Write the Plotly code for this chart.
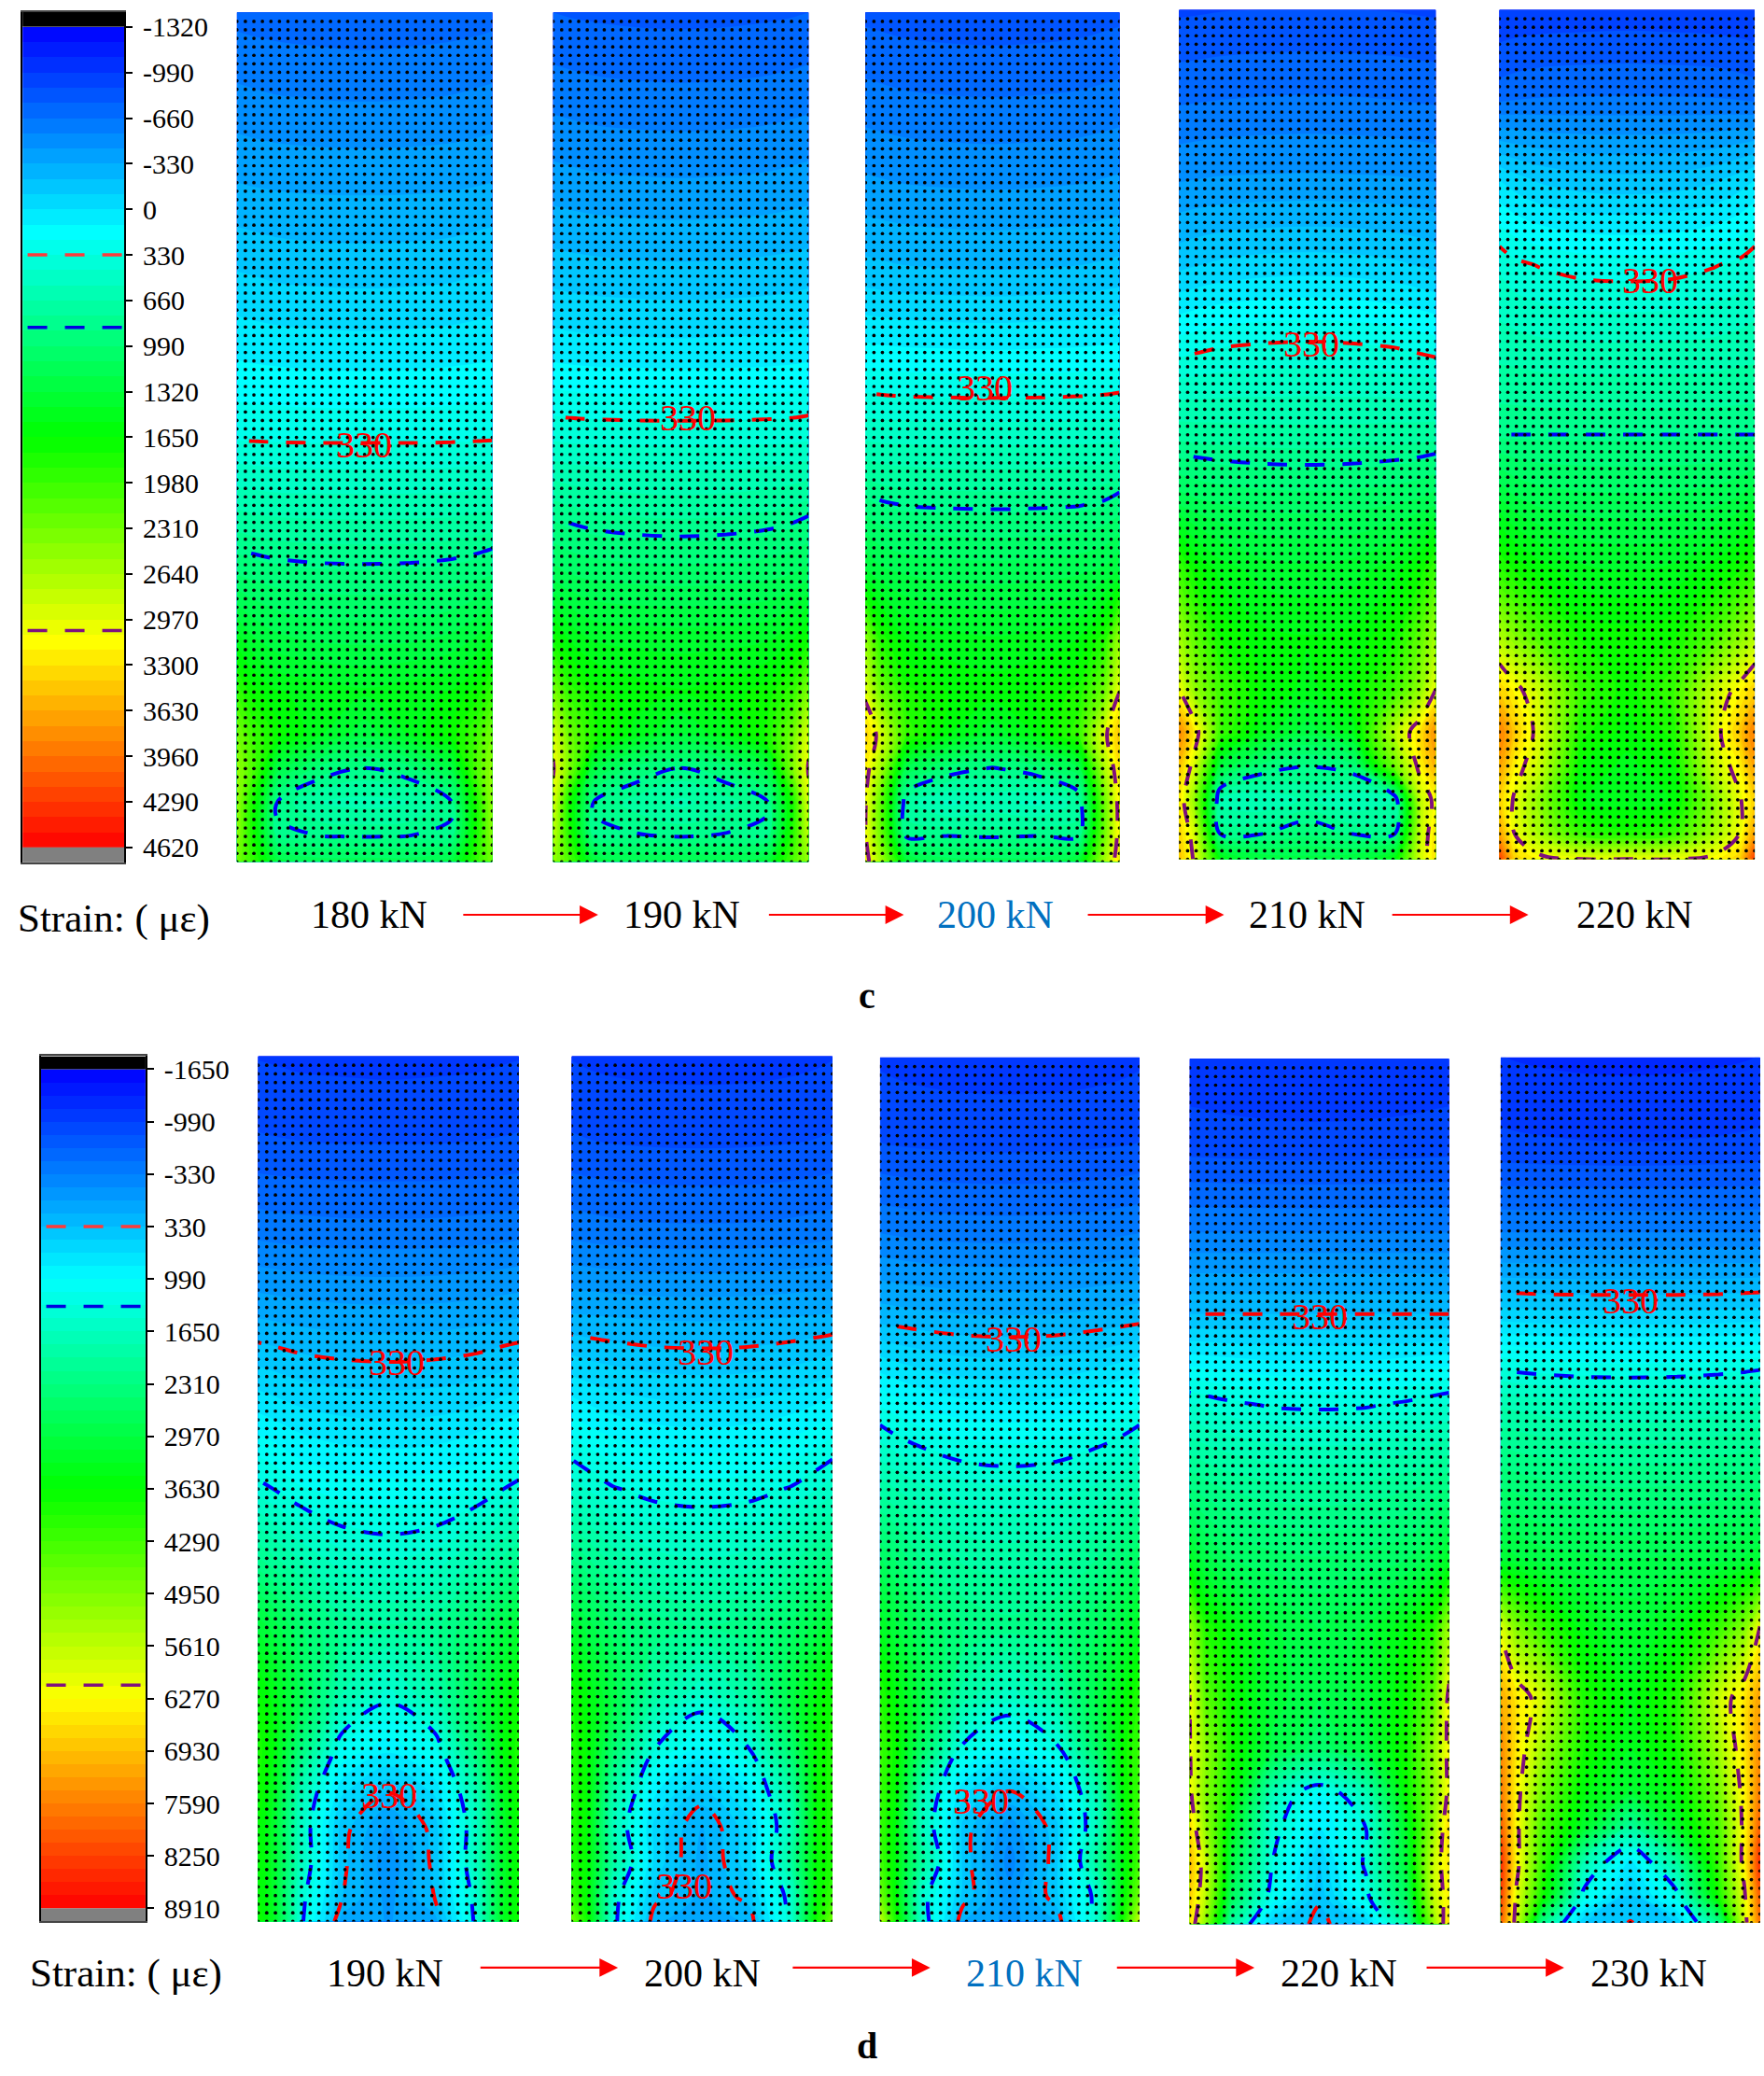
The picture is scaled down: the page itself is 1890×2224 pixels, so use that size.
import numpy as np
import plotly.graph_objects as go

W, H = 1890, 2224
S = W / 1333  # the boxes below were measured on the 1333 px wide view

# Contour bar ticks
ticks_c = [-1320, -990, -660, -330, 0, 330, 660, 990, 1320, 1650, 1980, 2310, 2640, 2970, 3300, 3630, 3960, 4290, 4620]
ticks_d = [-1650, -990, -330, 330, 990, 1650, 2310, 2970, 3630, 4290, 4950, 5610, 6270, 6930, 7590, 8250, 8910]

# Contour levels drawn as dashed lines: red, blue, purple
levels_c = [330, 855, 3050]
levels_d = [330, 1334, 6100]

loads_c = ['180 kN', '190 kN', '200 kN', '210 kN', '220 kN']
loads_d = ['190 kN', '200 kN', '210 kN', '220 kN', '230 kN']

# Gauge positions across the width and down the height of a specimen
gauge_x = [0, .06, .16, .32, .5, .68, .84, .94, 1]
gauge_y = [0, .1, .2, .3, .4, .5, .58, .66, .74, .8, .85, .89, .93, .97, 1]

# Strain (rows follow gauge_y, columns follow gauge_x)
c_180 = [
    [-700, -710, -720, -730, -740, -730, -720, -710, -700],
    [-520, -530, -545, -555, -560, -555, -545, -530, -520],
    [-330, -340, -350, -358, -360, -358, -350, -340, -330],
    [-120, -130, -150, -160, -165, -160, -150, -130, -120],
    [90, 80, 70, 60, 55, 60, 70, 80, 90],
    [315, 312, 308, 305, 305, 305, 308, 312, 315],
    [640, 620, 605, 600, 598, 600, 605, 620, 640],
    [975, 950, 920, 900, 895, 900, 920, 950, 975],
    [1500, 1350, 1250, 1200, 1190, 1200, 1250, 1350, 1500],
    [1950, 1700, 1550, 1500, 1450, 1500, 1550, 1700, 1950],
    [2350, 2000, 1700, 1450, 1250, 1450, 1700, 2000, 2350],
    [2500, 2100, 1250, 950, 850, 950, 1250, 2100, 2500],
    [2500, 1800, 840, 660, 620, 660, 840, 1800, 2500],
    [2450, 1800, 870, 860, 850, 860, 870, 1800, 2450],
    [2300, 1950, 1300, 1150, 1150, 1150, 1300, 1950, 2300],
]
c_190 = [
    [-770, -780, -790, -800, -805, -800, -790, -780, -770],
    [-590, -600, -615, -625, -630, -625, -615, -600, -590],
    [-390, -400, -415, -425, -430, -425, -415, -400, -390],
    [-170, -180, -190, -200, -205, -200, -190, -180, -170],
    [70, 60, 50, 45, 40, 45, 50, 60, 70],
    [420, 410, 405, 400, 400, 400, 405, 410, 420],
    [800, 770, 740, 715, 705, 715, 740, 770, 800],
    [1150, 1100, 1060, 1040, 1030, 1040, 1060, 1100, 1150],
    [1750, 1550, 1430, 1400, 1390, 1400, 1430, 1550, 1750],
    [2400, 1950, 1700, 1600, 1550, 1600, 1700, 1950, 2400],
    [2950, 2300, 1800, 1500, 1300, 1500, 1800, 2300, 2950],
    [3080, 2400, 1250, 950, 850, 950, 1250, 2400, 3080],
    [2950, 1800, 840, 730, 630, 730, 840, 1800, 2950],
    [2750, 1900, 880, 870, 850, 870, 880, 1900, 2750],
    [2500, 2100, 1350, 1200, 1200, 1200, 1350, 2100, 2500],
]
c_200 = [
    [-800, -810, -825, -835, -840, -835, -825, -810, -800],
    [-620, -630, -645, -655, -660, -655, -645, -630, -620],
    [-420, -430, -445, -455, -460, -455, -445, -430, -420],
    [-190, -200, -215, -225, -230, -225, -215, -200, -190],
    [150, 140, 130, 125, 120, 125, 130, 140, 150],
    [530, 520, 515, 510, 510, 510, 515, 520, 530],
    [930, 880, 850, 840, 835, 840, 850, 880, 930],
    [1350, 1250, 1200, 1170, 1160, 1170, 1200, 1250, 1350],
    [2500, 1850, 1550, 1480, 1450, 1480, 1550, 1850, 2600],
    [2950, 2300, 1800, 1650, 1600, 1650, 1800, 2300, 3050],
    [3400, 2900, 1950, 1550, 1350, 1550, 1950, 2950, 3500],
    [3200, 2600, 1200, 950, 840, 950, 1200, 2650, 3300],
    [3080, 2200, 700, 520, 580, 520, 700, 2250, 3200],
    [3080, 2300, 840, 860, 845, 860, 840, 2300, 3200],
    [3200, 2600, 1400, 1150, 1150, 1150, 1400, 2600, 3300],
]
c_210 = [
    [-900, -895, -885, -880, -875, -880, -885, -895, -900],
    [-690, -685, -675, -665, -660, -665, -675, -685, -690],
    [-450, -440, -430, -425, -420, -425, -430, -440, -450],
    [-143, -120, -90, -65, -57, -65, -90, -120, -143],
    [290, 310, 340, 360, 370, 360, 340, 310, 290],
    [728, 720, 712, 702, 698, 702, 712, 720, 728],
    [1180, 1130, 1090, 1060, 1050, 1060, 1090, 1130, 1180],
    [2000, 1700, 1500, 1380, 1350, 1380, 1500, 1700, 2000],
    [2600, 2200, 1750, 1580, 1550, 1580, 1750, 2200, 2600],
    [3050, 2500, 2000, 1650, 1500, 1650, 2000, 2500, 3050],
    [3850, 3250, 2000, 1500, 1250, 1500, 2700, 3300, 3800],
    [3500, 2900, 1300, 950, 860, 950, 2300, 3180, 3600],
    [3300, 2500, 620, 560, 680, 560, 650, 2800, 3150],
    [3400, 2900, 850, 850, 960, 850, 850, 2800, 3300],
    [3500, 3000, 1600, 1300, 1250, 1300, 1600, 2900, 3300],
]
c_220 = [
    [-980, -970, -960, -955, -950, -955, -960, -970, -980],
    [-720, -700, -680, -670, -665, -670, -680, -700, -720],
    [0, -60, -130, -175, -190, -175, -130, -60, 0],
    [420, 360, 320, 280, 270, 280, 320, 360, 420],
    [620, 610, 590, 580, 575, 580, 590, 610, 620],
    [855, 855, 855, 855, 855, 855, 855, 855, 855],
    [1350, 1250, 1180, 1150, 1140, 1150, 1180, 1250, 1350],
    [1900, 1750, 1600, 1460, 1430, 1460, 1600, 1750, 1900],
    [2700, 2450, 2100, 1750, 1700, 1750, 2100, 2450, 2700],
    [3400, 3150, 2800, 1950, 1700, 1950, 2800, 3150, 3400],
    [3900, 3450, 2900, 1800, 1600, 1800, 2900, 3450, 3900],
    [3700, 3200, 2800, 1650, 1500, 1650, 2800, 3200, 3700],
    [3400, 3000, 2450, 1550, 1450, 1550, 2450, 3000, 3400],
    [3700, 3050, 2600, 1950, 1800, 1950, 2600, 3050, 3700],
    [4300, 3400, 3150, 3060, 3060, 3060, 3150, 3400, 4300],
]
d_190 = [
    [-1000, -1010, -1030, -1040, -1050, -1040, -1030, -1010, -1000],
    [-800, -810, -820, -830, -830, -830, -820, -810, -800],
    [-400, -415, -430, -445, -450, -445, -430, -415, -400],
    [145, 130, 100, 75, 65, 75, 100, 130, 145],
    [743, 700, 630, 580, 562, 580, 630, 700, 743],
    [1400, 1330, 1180, 1080, 1050, 1080, 1180, 1330, 1400],
    [2150, 2000, 1800, 1550, 1480, 1550, 1800, 2000, 2150],
    [3100, 2900, 2500, 2100, 2000, 2100, 2500, 2900, 3100],
    [3700, 3400, 2800, 1800, 1400, 1800, 2800, 3400, 3700],
    [3900, 3500, 2400, 1150, 880, 1150, 2400, 3500, 3900],
    [3800, 3300, 1800, 700, 340, 700, 1800, 3300, 3800],
    [3700, 3200, 1650, 430, -30, 430, 1650, 3200, 3700],
    [3700, 3200, 1700, 400, -130, 400, 1700, 3200, 3700],
    [3700, 3250, 1500, 350, -60, 350, 1500, 3250, 3700],
    [3800, 3300, 1450, 100, -10, 100, 1450, 3300, 3800],
]
d_200 = [
    [-1000, -1020, -1040, -1055, -1060, -1055, -1040, -1020, -1000],
    [-800, -815, -830, -845, -850, -845, -830, -815, -800],
    [-400, -420, -445, -465, -470, -465, -445, -420, -400],
    [180, 170, 155, 135, 130, 135, 155, 170, 180],
    [870, 810, 740, 680, 660, 680, 740, 810, 870],
    [1574, 1480, 1350, 1250, 1220, 1250, 1350, 1480, 1574],
    [2300, 2150, 1900, 1700, 1650, 1700, 1900, 2150, 2300],
    [3200, 2900, 2550, 2250, 2150, 2250, 2550, 2900, 3200],
    [3800, 3500, 2900, 1900, 1500, 1900, 2900, 3500, 3800],
    [3900, 3600, 2500, 1334, 950, 1334, 2500, 3600, 3900],
    [3900, 3600, 1900, 850, 450, 850, 1900, 3600, 3900],
    [3900, 3600, 1700, 600, 150, 600, 1700, 3600, 3900],
    [3900, 3600, 1950, 600, 100, 600, 1950, 3600, 3900],
    [4200, 3600, 1500, 420, 120, 420, 1500, 3600, 4200],
    [4800, 3800, 1450, 180, 100, 180, 1450, 3800, 4800],
]
d_210 = [
    [-1020, -1040, -1060, -1075, -1080, -1075, -1060, -1040, -1020],
    [-820, -835, -850, -865, -870, -865, -850, -835, -820],
    [-350, -370, -395, -415, -420, -415, -395, -370, -350],
    [258, 240, 215, 185, 175, 185, 215, 240, 258],
    [1133, 1050, 950, 860, 835, 860, 950, 1050, 1133],
    [1920, 1820, 1700, 1560, 1516, 1560, 1700, 1820, 1920],
    [2650, 2450, 2150, 1950, 1900, 1950, 2150, 2450, 2650],
    [3300, 3000, 2650, 2300, 2200, 2300, 2650, 3000, 3300],
    [4000, 3500, 2900, 1900, 1550, 1900, 2900, 3500, 4000],
    [4200, 3700, 2600, 1250, 950, 1250, 2600, 3700, 4200],
    [4200, 3600, 1800, 700, 320, 700, 1800, 3600, 4200],
    [4200, 3500, 1700, 450, -100, 450, 1700, 3500, 4200],
    [4300, 3500, 2000, 450, -250, 450, 2000, 3500, 4300],
    [4800, 3600, 1500, 450, -100, 450, 1500, 3600, 4800],
    [5700, 3900, 1600, 150, -50, 150, 1600, 3900, 5700],
]
d_220 = [
    [-1100, -1110, -1130, -1145, -1150, -1145, -1130, -1110, -1100],
    [-900, -905, -915, -925, -930, -925, -915, -905, -900],
    [-335, -335, -335, -335, -335, -335, -335, -335, -335],
    [365, 365, 365, 365, 365, 365, 365, 365, 365],
    [1494, 1450, 1380, 1310, 1294, 1310, 1380, 1450, 1494],
    [2350, 2250, 2150, 2070, 2050, 2070, 2150, 2250, 2350],
    [3300, 2900, 2650, 2550, 2500, 2550, 2650, 2900, 3300],
    [5300, 4000, 3500, 3000, 2800, 3000, 3500, 4000, 5400],
    [6150, 4600, 3700, 3050, 2800, 3050, 3700, 4600, 6300],
    [6150, 5100, 3800, 2900, 2500, 2900, 3800, 5100, 6300],
    [6250, 5000, 3700, 1700, 1000, 1700, 3700, 5000, 6300],
    [6700, 5200, 3300, 1450, 800, 1334, 3300, 5200, 6700],
    [7000, 5750, 3000, 1320, 500, 1400, 3100, 5700, 6500],
    [6800, 5600, 2700, 1100, 350, 1200, 2700, 5600, 6400],
    [6600, 5100, 2000, 500, 280, 500, 2000, 5100, 6700],
]
d_230 = [
    [-1150, -1165, -1180, -1195, -1200, -1195, -1180, -1165, -1150],
    [-950, -960, -970, -980, -985, -980, -970, -960, -950],
    [-350, -350, -350, -350, -350, -350, -350, -350, -350],
    [600, 590, 575, 565, 563, 565, 575, 590, 600],
    [1800, 1760, 1720, 1680, 1667, 1680, 1720, 1760, 1800],
    [2500, 2450, 2400, 2350, 2330, 2350, 2400, 2450, 2500],
    [3100, 3000, 2900, 2850, 2800, 2850, 2900, 3000, 3100],
    [6000, 5000, 4200, 3400, 3100, 3400, 4200, 5000, 6200],
    [7200, 6500, 5800, 3900, 3400, 3900, 5700, 6500, 7300],
    [7500, 6500, 5300, 3800, 3300, 3800, 5300, 6500, 7500],
    [7700, 6350, 4800, 3500, 3100, 3500, 4800, 6350, 7700],
    [8000, 6300, 4400, 3200, 2000, 3200, 4400, 6300, 8000],
    [8500, 6350, 4200, 1800, 800, 2000, 4200, 6350, 8500],
    [8300, 6000, 3800, 1200, 450, 1200, 3800, 6000, 8000],
    [8000, 5800, 2200, 500, 320, 500, 2200, 5800, 7800],
]
strain_c = [c_180, c_190, c_200, c_210, c_220]
strain_d = [d_190, d_200, d_210, d_220, d_230]

JET = [[0, '#0000ff'], [.25, '#00ffff'], [.5, '#00ff00'], [.75, '#ffff00'], [1, '#ff0000']]
LINE_COLORS = ['#ff0000', '#0000ff', '#7f0f7f']
BAR_LINE_COLORS = ['#ff3a3a', '#0000e0', '#7f0f7f']
SERIF = 'Liberation Serif'

# Pixel boxes on the 1333 px view: left, right, top, bottom
boxes_c = [(179, 372, 8, 651), (418, 611, 8, 651), (654, 846, 8, 651), (891, 1085, 6, 649), (1133, 1326, 6, 649)]
boxes_d = [(195, 392, 798, 1453), (432, 629, 798, 1453), (665, 861, 799, 1453), (899, 1095, 800, 1455), (1134, 1330, 799, 1454)]

fig = go.Figure()
axis_no = 0


def add_axes(box, **yopts):
    global axis_no
    axis_no += 1
    suffix = '' if axis_no == 1 else str(axis_no)
    left, right, top, bottom = box
    x_name, y_name = 'x' + suffix, 'y' + suffix
    fig.layout['xaxis' + suffix] = dict(domain=[left * S / W, right * S / W], anchor=y_name, range=[0, 1],
                                        showgrid=False, zeroline=False, showticklabels=False, ticks='')
    opts = dict(domain=[1 - bottom * S / H, 1 - top * S / H], anchor=x_name, range=[1, 0],
                showgrid=False, zeroline=False, showticklabels=False, ticks='')
    opts.update(yopts)
    fig.layout['yaxis' + suffix] = opts
    return x_name, y_name


def add_panel(box, z, levels, ticks, step):
    xa, ya = add_axes(box)
    fig.add_trace(go.Contour(x=gauge_x, y=gauge_y, z=z, xaxis=xa, yaxis=ya, colorscale=JET,
                             zauto=False, zmin=ticks[0], zmax=ticks[-1], showscale=False, hoverinfo='skip',
                             contours=dict(start=ticks[0], end=ticks[-1], size=step, coloring='fill'),
                             line=dict(width=0, smoothing=1)))
    for level, color in zip(levels, LINE_COLORS):
        fig.add_trace(go.Contour(x=gauge_x, y=gauge_y, z=z, xaxis=xa, yaxis=ya, showscale=False, hoverinfo='skip',
                                 contours=dict(start=level, end=level, size=1, coloring='none'),
                                 line=dict(color=color, width=4, dash='21px,19px', smoothing=1)))
    # measuring points, the outer columns get clipped by the panel edge
    gx, gy = np.meshgrid(np.linspace(0, 1, 31), np.linspace(.0105, 1, 100))
    fig.add_trace(go.Scatter(x=gx.ravel(), y=gy.ravel(), xaxis=xa, yaxis=ya, mode='markers', hoverinfo='skip',
                             marker=dict(color='black', size=3.7), showlegend=False))


def add_bar(box, ticks, step, levels):
    lo, hi = ticks[0], ticks[-1]
    xa, ya = add_axes(box, range=[hi + step, lo - step], side='right', tickmode='array', tickvals=ticks,
                      ticktext=[str(t) for t in ticks], showticklabels=True, ticks='outside', ticklen=7,
                      tickwidth=1.5, tickcolor='black', ticklabelstandoff=5,
                      tickfont=dict(family=SERIF, size=30, color='black'),
                      showline=True, linecolor='black', linewidth=1.5, mirror=True)
    fig.layout[xa.replace('x', 'xaxis')].update(showline=True, linecolor='#444', linewidth=1.5, mirror=True)
    bands = np.arange(lo + step / 2, hi, step)
    fig.add_trace(go.Heatmap(x=[.5], y=bands, z=[[b] for b in bands], xaxis=xa, yaxis=ya, colorscale=JET,
                             zauto=False, zmin=lo, zmax=hi, showscale=False, hoverinfo='skip'))
    # out of range caps, given as cell edges
    for edges, color in (([lo - step, lo], 'black'), ([hi, hi + step], 'gray')):
        fig.add_trace(go.Heatmap(x=[0, 1], y=edges, z=[[1]], xaxis=xa, yaxis=ya, zauto=False, zmin=0, zmax=2,
                                 colorscale=[[0, color], [1, color]], showscale=False, hoverinfo='skip'))
    for level, color in zip(levels, BAR_LINE_COLORS):
        fig.add_trace(go.Scatter(x=[.05, 1], y=[level, level], xaxis=xa, yaxis=ya, mode='lines', hoverinfo='skip',
                                 line=dict(color=color, width=3.5, dash='21px,19px'), showlegend=False))


add_bar((17, 94, 7.5, 651.5), ticks_c, 110, levels_c)
for box, z in zip(boxes_c, strain_c):
    add_panel(box, z, levels_c, ticks_c, 110)
add_bar((31, 110, 798, 1453), ticks_d, 165, levels_d)
for box, z in zip(boxes_d, strain_d):
    add_panel(box, z, levels_d, ticks_d, 165)


def note(text, x, y, size=42, color='black', bold=False):
    fig.add_annotation(text='<b>%s</b>' % text if bold else text, x=x * S / W, y=1 - y * S / H, xref='paper', yref='paper',
                       showarrow=False, xanchor='center', yanchor='middle',
                       font=dict(family=SERIF, size=size, color=color))


def arrow(x0, x1, y):
    fig.add_annotation(x=x1 * S / W, y=1 - y * S / H, xref='paper', yref='paper', text='', showarrow=True,
                       ax=-(x1 - x0) * S, ay=0, arrowhead=2, arrowsize=1.8, arrowwidth=2.2, arrowcolor='#ff0000')


for text, x in zip(loads_c, [279, 515, 752, 988, 1235]):
    note(text, x, 691, color='#0070c0' if text == '200 kN' else 'black')
for text, x in zip(loads_d, [291, 531, 774, 1012, 1246]):
    note(text, x, 1492, color='#0070c0' if text == '210 kN' else 'black')
note('Strain: ( με)', 86, 694, size=43)
note('Strain: ( με)', 95, 1492, size=43)
note('c', 655, 752, size=40, bold=True)
note('d', 655, 1547, size=40, bold=True)

for x0, x1 in [(349, 452), (580, 683), (821, 925), (1051, 1155)]:
    arrow(x0, x1, 691)
for x0, x1 in [(362, 467), (598, 703), (843, 948), (1077, 1182)]:
    arrow(x0, x1, 1488)

# 330 labels sitting on the red contours
for x, y in [(275, 335), (520, 315), (744, 292), (991, 259), (1247, 211),
             (300, 1030), (533, 1022), (766, 1012), (997, 995), (1232, 983),
             (294, 1358), (517, 1426), (741, 1362)]:
    note('330', x, y, size=40, color='#ff0000')

fig.update_layout(width=W, height=H, margin=dict(l=0, r=0, t=0, b=0), paper_bgcolor='white', plot_bgcolor='white',
                  showlegend=False)

fig.write_html('out.html', config={'displayModeBar': False}, post_script="document.body.style.margin='0';")
